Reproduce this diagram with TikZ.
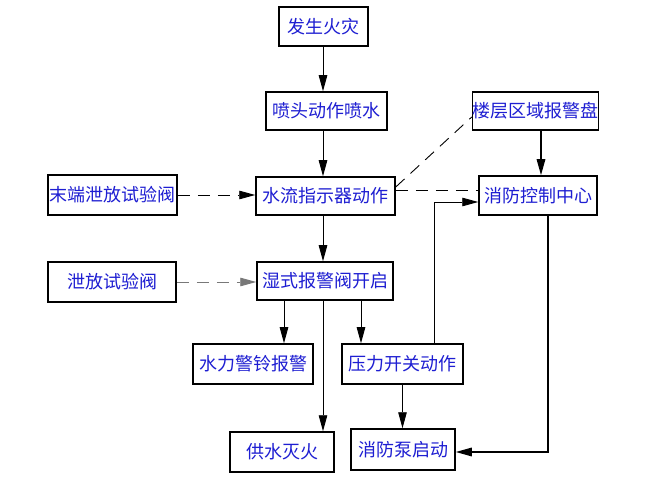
\documentclass[tikz,border=0pt]{standalone}
\usepackage{fontspec}
\newfontfamily\cjk{Noto Sans CJK SC}
\usetikzlibrary{arrows.meta,calc}
\definecolor{txtblue}{RGB}{30,30,210}
\definecolor{dgray}{RGB}{120,120,120}
\begin{document}
\begin{tikzpicture}[x=1pt,y=-1pt,
  box/.style={draw=black,line width=1.5pt,inner sep=0pt,text=txtblue,
    font=\cjk\fontsize{18}{20}\selectfont},
  arr/.style={line width=0.9pt,-{Triangle[length=16pt,width=8.5pt]}},
  dash arr/.style={arr,dash pattern=on 12pt off 8pt},
  dline/.style={line width=0.9pt,dash pattern=on 12pt off 8pt}]
\useasboundingbox[fill=white] (0,0) rectangle (656,478);
\node[box,minimum width=89pt,minimum height=39pt] (fire) at (323.5,26.5) {发生火灾};
\node[box,minimum width=121pt,minimum height=38pt] (spray) at (326.5,111) {喷头动作喷水};
\node[box,minimum width=125pt,minimum height=38pt] (floor) at (535.5,111) {楼层区域报警盘};
\node[box,minimum width=139pt,minimum height=38pt] (flow) at (325.5,196) {水流指示器动作};
\node[box,minimum width=118pt,minimum height=39pt] (ctrl) at (538,195.5) {消防控制中心};
\node[box,minimum width=129pt,minimum height=40pt] (endv) at (112.5,195) {末端泄放试验阀};
\node[box,minimum width=128pt,minimum height=40pt] (relv) at (112,282) {泄放试验阀};
\node[box,minimum width=136pt,minimum height=38pt] (wet) at (325,281) {湿式报警阀开启};
\node[box,minimum width=120pt,minimum height=40pt] (bell) at (253,364) {水力警铃报警};
\node[box,minimum width=121pt,minimum height=40pt] (press) at (402.5,364) {压力开关动作};
\node[box,minimum width=104pt,minimum height=40pt] (supply) at (282,452) {供水灭火};
\node[box,minimum width=104pt,minimum height=41pt] (pump) at (403,449.5) {消防泵启动};
% main vertical chain at x=323
\coordinate (cx) at (323,0);
\draw[arr] (fire.south -| cx) -- (spray.north -| cx);
\draw[arr] (spray.south -| cx) -- (flow.north -| cx);
\draw[arr] (flow.south -| cx) -- (wet.north -| cx);
\draw[arr] (wet.south -| cx) -- (supply.north -| cx);
% test valves
\draw[dash arr] (endv.east) -- (endv.east -| flow.west);
\draw[dash arr,draw=dgray] (relv.east) -- (relv.east -| wet.west);
% flow indicator signals
\draw[dline] ($(flow.east)+(0,-9)$) -- ($(floor.west)+(0,6)$);
\draw[dline] ($(flow.east)+(0,-6)$) -- ($(ctrl.west)+(0,-5.5)$);
% floor panel to control centre
\coordinate (fx) at (541,0);
\draw[arr,line width=1.5pt] (floor.south -| fx) -- (ctrl.north -| fx);
% alarm valve branches
\coordinate (bx) at (284,0);
\coordinate (px) at (361,0);
\draw[arr] (wet.south -| bx) -- (bell.north -| bx);
\draw[arr] (wet.south -| px) -- (press.north -| px);
\draw[arr] (press.south) -- (press.south |- pump.north);
% pressure switch to control centre
\coordinate (sx) at (434,0);
\draw[arr] (press.north -| sx) |- ($(ctrl.west)+(0,6.5)$);
% control centre to pump
\coordinate (cpx) at (548,0);
\draw[arr,line width=1.5pt] (ctrl.south -| cpx) |- ($(pump.east)+(0,2.5)$);
\end{tikzpicture}
\end{document}
